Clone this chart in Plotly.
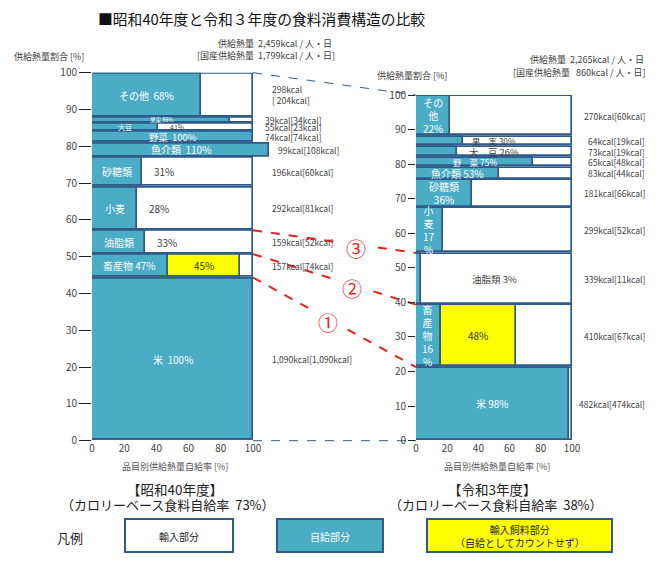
import plotly.graph_objects as go

W, H = 665, 565
FONT = "Noto Sans CJK JP"

# ---------------- data ----------------
items = ["米", "畜産物", "油脂類", "小麦", "砂糖類", "魚介類", "野菜", "大豆", "果実", "その他"]

s40_kcal = [1090, 157, 159, 292, 196, 99, 74, 55, 39, 298]
s40_dom = [1090, 74, 52, 81, 60, 108, 74, 23, 34, 204]
s40_rate = [100, 47, 33, 28, 31, 110, 100, 41, 86, 68]
s40_feed = [0, 45, 0, 0, 0, 0, 0, 0, 0, 0]
s40_total = "2,459"
s40_dom_total = "1,799"
s40_ratio = 73
s40_in = ["米  100%", "畜産物 47%", "油脂類", "小麦", "砂糖類", "魚介類  110%", "野菜  100%", "大豆", "果実 86%", "その他  68%"]
s40_out = ["", "", "33%", "28%", "31%", "", "", "41%", "", ""]

r3_kcal = [482, 410, 339, 299, 181, 83, 65, 73, 64, 270]
r3_dom = [474, 67, 11, 52, 66, 44, 48, 19, 19, 60]
r3_rate = [98, 16, 3, 17, 36, 53, 75, 26, 30, 22]
r3_feed = [0, 48, 0, 0, 0, 0, 0, 0, 0, 0]
r3_total = "2,265"
r3_dom_total = "860"
r3_ratio = 38
r3_in = ["米 98%", "畜<br>産<br>物<br>16<br>%", "", "小<br>麦<br>17<br>%", "砂糖類<br>36%", "魚介類 53%", "野　菜 75%", "", "", "その<br>他<br>22%"]
r3_out = ["", "", "油脂類 3%", "", "", "", "", "大　豆 26%", "果　実 30%", ""]

x_ticks = [0, 20, 40, 60, 80, 100]
y_ticks = list(range(0, 101, 10))

# ---------------- styles ----------------
BLUE = "#4BACC6"
EDGE = "#2F5B8A"
YELLOW = "#FFFF00"
TXT = "#404040"

def px(x):
    return x / W

def py(y):
    return 1 - y / H

# plot-area geometry (pixels)
L = dict(x0=92, x1=92 + 1.61 * 115, y0=440.7, y1=72.7, xr=[0, 115])
R = dict(x0=416, x1=572, y0=440.7, y1=95, xr=[0, 100])

def to_paper(g, x, y):
    fx = (x - g["xr"][0]) / (g["xr"][1] - g["xr"][0])
    fy = y / 100.0
    X = g["x0"] + fx * (g["x1"] - g["x0"])
    Y = g["y0"] + fy * (g["y1"] - g["y0"])
    return px(X), py(Y)

fig = go.Figure()
annotations = []
shapes = []

def stack(kcal):
    tot = sum(kcal)
    h = [k / tot * 100 for k in kcal]
    bottoms = []
    c = 0
    for v in h:
        bottoms.append(c)
        c += v
    return h, bottoms

def add_chart(g, xa, ya, kcal, dom, rate, feed, inner, outer, outer_mode, kpos):
    h, b = stack(kcal)
    centers = [bb + hh / 2 for bb, hh in zip(b, h)]
    widths = [hh - 0.45 for hh in h]
    n = len(kcal)
    fig.add_trace(go.Bar(orientation="h", y=centers, x=[100] * n, base=[0] * n, width=widths,
                         marker=dict(color="white", line=dict(color=EDGE, width=1.7)),
                         xaxis=xa, yaxis=ya, showlegend=False, hoverinfo="skip"))
    fig.add_trace(go.Bar(orientation="h", y=centers, x=rate, base=[0] * n, width=widths,
                         marker=dict(color=BLUE, line=dict(color=EDGE, width=1.7)),
                         xaxis=xa, yaxis=ya, showlegend=False, hoverinfo="skip"))
    fy = [c for c, f in zip(centers, feed) if f > 0]
    fx = [f for f in feed if f > 0]
    fb = [r for r, f in zip(rate, feed) if f > 0]
    fw = [w for w, f in zip(widths, feed) if f > 0]
    fig.add_trace(go.Bar(orientation="h", y=fy, x=fx, base=fb, width=fw,
                         marker=dict(color=YELLOW, line=dict(color=EDGE, width=1.7)),
                         xaxis=xa, yaxis=ya, showlegend=False, hoverinfo="skip"))
    scale = (g["y0"] - g["y1"]) / 100.0
    for i in range(n):
        hpx = h[i] * scale
        fs = max(5.5, min(10, hpx * 0.85))
        if inner[i]:
            annotations.append(dict(x=rate[i] / 2, y=centers[i], xref=xa, yref=ya, text=inner[i],
                                    showarrow=False, font=dict(family=FONT, size=fs, color="white")))
        if outer[i]:
            if outer_mode == "after":
                annotations.append(dict(x=rate[i] + 6, y=centers[i], xref=xa, yref=ya, text=outer[i],
                                        xanchor="left", showarrow=False,
                                        font=dict(family=FONT, size=fs, color=TXT)))
            else:
                annotations.append(dict(x=50, y=centers[i], xref=xa, yref=ya, text=outer[i],
                                        showarrow=False, font=dict(family=FONT, size=min(fs, 9.5), color=TXT)))
        if feed[i] > 0:
            annotations.append(dict(x=rate[i] + feed[i] / 2, y=centers[i], xref=xa, yref=ya,
                                    text=f"{feed[i]}%", showarrow=False,
                                    font=dict(family=FONT, size=10, color="#333")))
        if i == n - 1 and kpos == "left":
            t = f"{kcal[i]:,}kcal<br>[ {dom[i]:,}kcal]"
        else:
            t = f"{kcal[i]:,}kcal[{dom[i]:,}kcal]"
        ly = g["y0"] - centers[i] * scale
        if kpos == "left":
            lx = 270 if h[i] > 5 else 263
            if rate[i] > 100:
                lx = 276
            annotations.append(dict(x=px(lx), y=py(ly), xref="paper", yref="paper", text=t,
                                    xanchor="left", yanchor="middle", align="left", showarrow=False,
                                    font=dict(family=FONT, size=8.5, color=TXT)))
        else:
            annotations.append(dict(x=px(647), y=py(ly), xref="paper", yref="paper", text=t,
                                    xanchor="right", yanchor="middle", align="right", showarrow=False,
                                    font=dict(family=FONT, size=8.5, color=TXT)))
    return h, b

hL, bL = add_chart(L, "x", "y", s40_kcal, s40_dom, s40_rate, s40_feed, s40_in, s40_out, "after", "left")
hR, bR = add_chart(R, "x2", "y2", r3_kcal, r3_dom, r3_rate, r3_feed, r3_in, r3_out, "center", "right")

axis_font = dict(family=FONT, size=10, color="#444")
common_x = dict(tickvals=x_ticks, showgrid=False, zeroline=False, showline=False, ticks="",
                tickfont=axis_font, fixedrange=True, automargin=False)
common_y = dict(range=[0, 100], tickvals=y_ticks, showgrid=False, zeroline=False, showline=False,
                ticks="outside", tickcolor="#222", tickwidth=1.3, tickfont=axis_font, fixedrange=True,
                automargin=False)

fig.update_layout(
    width=W, height=H, margin=dict(l=0, r=0, t=0, b=0, pad=0), autosize=False,
    paper_bgcolor="white", plot_bgcolor="rgba(0,0,0,0)",
    barmode="overlay", bargap=0,
    font=dict(family=FONT),
    xaxis=dict(domain=[px(L["x0"]), px(L["x1"])], range=L["xr"], anchor="y", **common_x),
    yaxis=dict(domain=[py(L["y0"]), py(L["y1"])], anchor="x", ticklen=12, **common_y),
    xaxis2=dict(domain=[px(R["x0"]), px(R["x1"])], range=R["xr"], anchor="y2", **common_x),
    yaxis2=dict(domain=[py(R["y0"]), py(R["y1"])], anchor="x2", ticklen=7, **common_y),
)

def link(yl, yr, color, dash, width):
    x0, y0 = to_paper(L, 100, yl)
    x1, y1 = to_paper(R, 0, yr)
    shapes.append(dict(type="line", xref="paper", yref="paper", x0=x0, y0=y0, x1=x1, y1=y1,
                       line=dict(color=color, dash=dash, width=width), layer="below"))
    return x0, y0, x1, y1

link(100, 100, EDGE, "dash", 1)
link(0, 0, EDGE, "dash", 1)
circ = ["①", "②", "③"]
tpos = [0.46, 0.61, 0.63]
for k in range(3):
    x0, y0, x1, y1 = link(bL[k + 1], bR[k + 1], "#E8201E", "dash", 2)
    t = tpos[k]
    annotations.append(dict(x=x0 + t * (x1 - x0), y=y0 + t * (y1 - y0), xref="paper", yref="paper",
                            text=circ[k], showarrow=False, bgcolor="white", borderpad=4, yshift=-4,
                            xanchor="center", yanchor="middle",
                            font=dict(family=FONT, size=20, color="#E8201E")))

def txt(x, y, s, size=9, color=TXT, xanchor="center", **kw):
    annotations.append(dict(x=px(x), y=py(y), xref="paper", yref="paper", text=s, showarrow=False,
                            xanchor=xanchor, yanchor="middle",
                            font=dict(family=FONT, size=size, color=color), **kw))

txt(261, 19, "■昭和40年度と令和３年度の食料消費構造の比較", size=14.8, color="#111")
txt(334, 44, f"供給熱量  {s40_total}kcal / 人・日", xanchor="right")
txt(337, 55, f"[国産供給熱量  {s40_dom_total}kcal / 人・日]", xanchor="right")
txt(646, 60, f"供給熱量  {r3_total}kcal / 人・日", xanchor="right")
txt(648, 72, f"[国産供給熱量   {r3_dom_total}kcal / 人・日]", xanchor="right")
txt(12, 57, "供給熱量割合 [%]", xanchor="left")
txt(375, 76, "供給熱量割合 [%]", xanchor="left")
txt(175, 466, "品目別供給熱量自給率 [%]", size=9, color="#555")
txt(497, 466, "品目別供給熱量自給率 [%]", size=9, color="#555")
txt(175, 489, "【昭和40年度】", size=13.5, color="#222")
txt(168, 505, f"（カロリーベース食料自給率  {s40_ratio}%）", size=13, color="#222")
txt(492, 489, "【令和3年度】", size=13.5, color="#222")
txt(496, 505, f"（カロリーベース食料自給率  {r3_ratio}%）", size=13, color="#222")

txt(70, 537, "凡例", size=13, color="#222")
legend = [(125, 233, "white", "輸入部分", "#222"),
          (277, 383, BLUE, "自給部分", "white"),
          (427, 612, YELLOW, "輸入飼料部分<br>（自給としてカウントせず）", "#222")]
for a, b_, col, s, tc in legend:
    shapes.append(dict(type="rect", xref="paper", yref="paper", x0=px(a), x1=px(b_), y0=py(552), y1=py(519),
                       fillcolor=col, line=dict(color=EDGE, width=2)))
    txt((a + b_) / 2, 536, s, size=10, color=tc)

fig.update_layout(annotations=annotations, shapes=shapes)
fig.write_html("out.html", config={"displayModeBar": False},
               post_script="document.body.style.margin='0px';document.body.style.overflow='hidden';")
